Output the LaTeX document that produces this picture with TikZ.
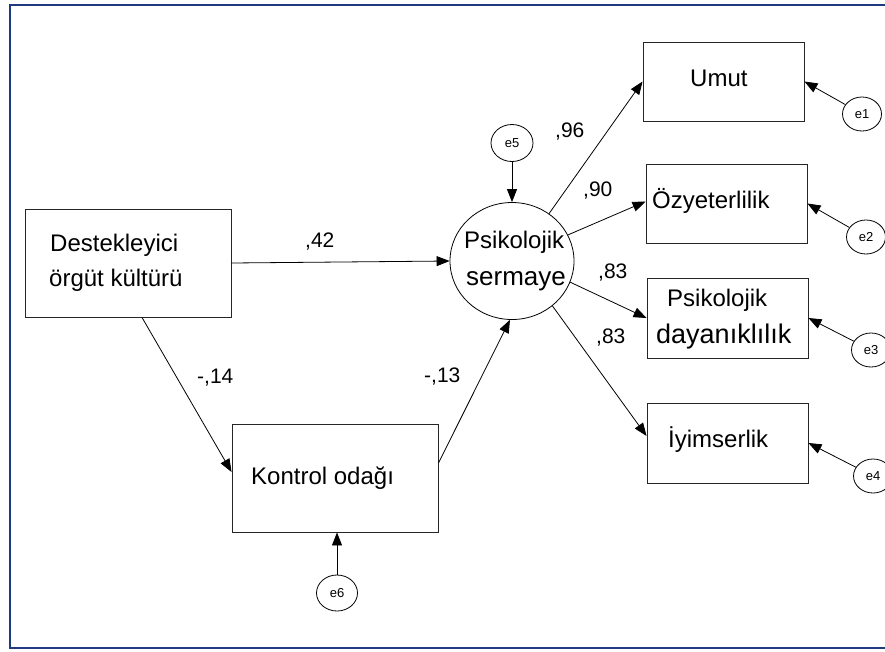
\documentclass[tikz,border=0pt]{standalone}
\usepackage{fontspec}
\setmainfont{Liberation Sans}
\usetikzlibrary{arrows.meta,shapes.geometric,calc}
\begin{document}
\begin{tikzpicture}[x=1pt,y=-1pt,
  box/.style={draw=black!85,line width=0.9pt,inner sep=0pt},
  latent/.style={draw=black,line width=0.8pt,ellipse,inner sep=0pt,minimum width=124pt,minimum height=117pt},
  err/.style={draw=black,line width=0.8pt,ellipse,inner sep=0pt,minimum width=39pt,minimum height=34pt,font=\fontsize{13}{15}\selectfont},
  txt/.style={anchor=base west,inner sep=0pt,font=\fontsize{24}{28}\selectfont},
  coef/.style={anchor=base west,inner sep=0pt,font=\fontsize{21}{25}\selectfont},
  path/.style={line width=0.8pt,-{Triangle[length=13pt,width=10pt]}}]
\useasboundingbox (0,0) rectangle (885,651);
\clip (0,0) rectangle (885,651);
\draw[line width=2.5pt,color={rgb,255:red,31;green,58;blue,128}] (10,5) rectangle (905,648);
% boxes
\node[box,minimum width=206pt,minimum height=108pt] (D) at (128,263) {};
\node[box,minimum width=206pt,minimum height=108pt] (K) at (335,478) {};
\node[latent] (P) at (512,261) {};
\node[box,minimum width=161pt,minimum height=79pt] (U) at (723.5,81.5) {};
\node[box,minimum width=161pt,minimum height=79pt] (O) at (726.5,203.5) {};
\node[box,minimum width=161pt,minimum height=80pt] (PD) at (727.5,318) {};
\node[box,minimum width=161pt,minimum height=80pt] (I) at (727.5,443) {};
% texts
\node[txt] (Dt1) at (50,251) {Destekleyici};
\node[txt] (Dt2) at (49,286) {örgüt kültürü};
\node[txt] (Kt) at (251,484) {Kontrol odağı};
\node[txt] (Pt1) at (464,248) {Psikolojik};
\node[txt,font=\fontsize{26}{30}\selectfont] (Pt2) at (466,285) {sermaye};
\node[txt] (Ut) at (690,86) {Umut};
\node[txt] (Ot) at (652,208) {Özyeterlilik};
\node[txt] (PDt1) at (667,306) {Psikolojik};
\node[txt,font=\fontsize{27}{31}\selectfont] (PDt2) at (656,343) {dayanıklılık};
\node[txt] (It) at (668,447) {İyimserlik};
% error terms
\node[err] (e1) at (862,114) {e1};
\node[err] (e2) at (866,237) {e2};
\node[err] (e3) at (871,350) {e3};
\node[err] (e4) at (873,476) {e4};
\node[err,minimum width=42pt,minimum height=37pt] (e5) at (512,143) {e5};
\node[err,minimum width=41pt,minimum height=36pt] (e6) at (337,593) {e6};
% paths
\draw[path] (D.east) -- (P.west);
\draw[path] ($(D.south)+(14,0)$) -- ($(K.west)+(0,-6)$);
\draw[path] ($(K.east)+(0,-15)$) -- (P.-92);
\draw[path] (P.52) -- (U.west);
\draw[path] (P.25) -- ($(O.west)+(0,-2)$);
\draw[path] (P.-20) -- (PD.west);
\draw[path] (P.-48) -- ($(I.west)+(0,-7)$);
\draw[path] (e5) -- (P.north);
\draw[path] (e6) -- (K.south -| e6);
\draw[path] (e1) -- (U.east);
\draw[path] (e2) -- (O.east);
\draw[path] (e3) -- (PD.east);
\draw[path] (e4) -- (I.east);
% coefficients
\node[coef] (c1) at (305,247) {,42};
\node[coef] (c2) at (197,383) {-,14};
\node[coef] (c3) at (424,382) {-,13};
\node[coef] (c4) at (555,137) {,96};
\node[coef] (c5) at (583,196) {,90};
\node[coef] (c6) at (598,278) {,83};
\node[coef] (c7) at (596,343) {,83};
\end{tikzpicture}
\end{document}
